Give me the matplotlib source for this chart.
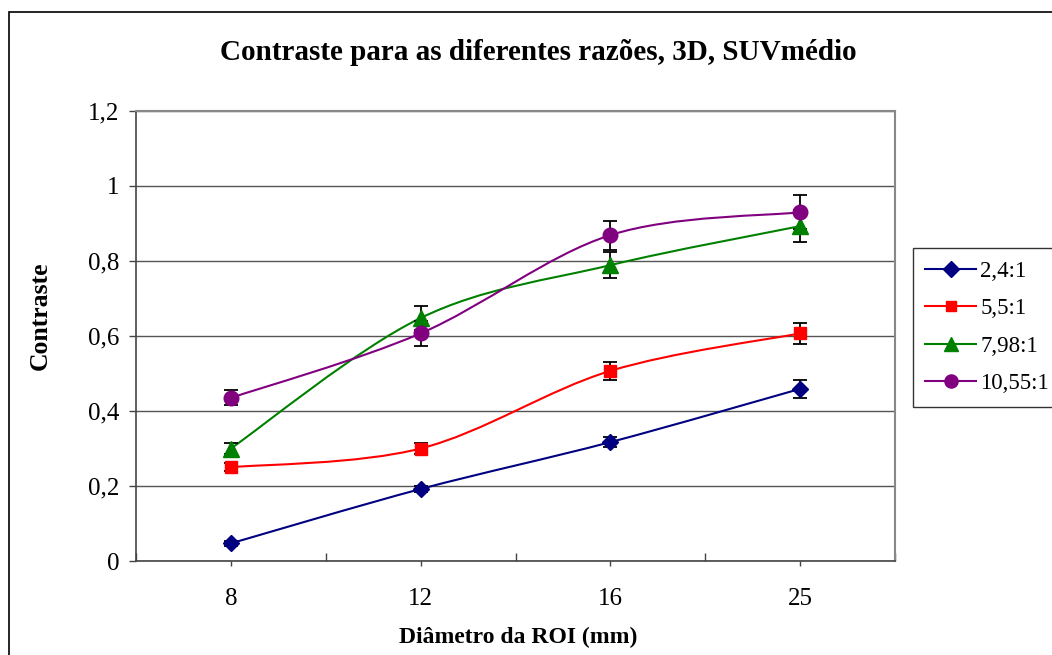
import matplotlib
matplotlib.use("Agg")
import matplotlib.pyplot as plt
from matplotlib.path import Path
from matplotlib.patches import PathPatch, Rectangle
from matplotlib.lines import Line2D
import numpy as np

plt.rcParams['font.family'] = ['Liberation Serif', 'DejaVu Serif']

categories = ["8", "12", "16", "25"]
series_names = ["2,4:1", "5,5:1", "7,98:1", "10,55:1"]
v_24 = [0.047, 0.192, 0.317, 0.459]
v_55 = [0.250, 0.300, 0.507, 0.607]
v_798 = [0.300, 0.648, 0.789, 0.893]
v_1055 = [0.435, 0.607, 0.869, 0.930]
e_24 = [0.006, 0.008, 0.013, 0.024]
e_55 = [0.011, 0.015, 0.025, 0.027]
e_798 = [0.015, 0.032, 0.035, 0.042]
e_1055 = [0.020, 0.033, 0.039, 0.045]
y_ticks = [0, 0.2, 0.4, 0.6, 0.8, 1.0, 1.2]
y_tick_labels = ["0", "0,2", "0,4", "0,6", "0,8", "1", "1,2"]

values = [v_24, v_55, v_798, v_1055]
errors = [e_24, e_55, e_798, e_1055]
colors = ["#000080", "#FF0000", "#008000", "#800080"]
markers = ["D", "s", "^", "o"]
msizes = [8.5, 8.5, 11, 10.5]

W, H = 1052, 655
fig = plt.figure(figsize=(W / 100, H / 100), dpi=100)
ax = fig.add_axes([136 / W, 1 - 561 / H, (895 - 136) / W, (561 - 111) / H])

x = np.arange(len(categories))


def smooth_path(xs, ys):
    pts = np.column_stack([xs, ys]).astype(float)
    n = len(pts)
    verts = [pts[0]]
    codes = [Path.MOVETO]
    for i in range(n - 1):
        p_prev = pts[i - 1] if i > 0 else pts[i]
        p_next2 = pts[i + 2] if i + 2 < n else pts[i + 1]
        c1 = pts[i] + (pts[i + 1] - p_prev) / 6.0
        c2 = pts[i + 1] - (p_next2 - pts[i]) / 6.0
        verts += [c1, c2, pts[i + 1]]
        codes += [Path.CURVE4] * 3
    return Path(verts, codes)


for vals, errs, c, m, ms in zip(values, errors, colors, markers, msizes):
    ax.add_patch(PathPatch(smooth_path(x, vals), facecolor='none', edgecolor=c,
                           lw=1.5, zorder=3))
    ax.errorbar(x, vals, yerr=errs, fmt='none', ecolor='black', elinewidth=1.3,
                capsize=5, capthick=1.3, zorder=4)
    ax.plot(x, vals, linestyle='none', marker=m, ms=ms, color=c, mec=c, zorder=5)

ax.set_xlim(-0.5, len(categories) - 0.5)
ax.set_ylim(0, 1.2)
ax.set_yticks(y_ticks)
ax.set_yticklabels(y_tick_labels)
ax.set_xticks(x)
ax.set_xticklabels(categories)
ax.set_xticks(np.arange(-0.5, len(categories), 1.0), minor=True)
ax.yaxis.grid(True, color='#555555', lw=1.0)
ax.set_axisbelow(True)

ax.tick_params(axis='y', which='major', direction='out', length=5, width=1,
               color='#444444', labelsize=18, pad=7)
ax.tick_params(axis='x', which='major', direction='out', length=3.5, width=1,
               color='#444444', labelsize=18, pad=16)
ax.tick_params(axis='x', which='minor', direction='in', length=6, width=1,
               color='#444444')

for side in ['left', 'bottom']:
    ax.spines[side].set_color('#444444')
    ax.spines[side].set_linewidth(1.2)
for side in ['right', 'top']:
    ax.spines[side].set_color('#888888')
    ax.spines[side].set_linewidth(1.5)

fig.text(538 / W, 1 - 52 / H, "Contraste para as diferentes razões, 3D, SUVmédio",
         ha='center', va='center', fontsize=21, fontweight='bold')
fig.text(518 / W, 1 - 637 / H, "Diâmetro da ROI (mm)", ha='center', va='center',
         fontsize=17, fontweight='bold')
fig.text(40 / W, 1 - 316 / H, "Contraste", ha='center', va='center',
         rotation=90, fontsize=18.5, fontweight='bold')

handles = [Line2D([], [], color=c, marker=m, ms=ms * 0.9, lw=1.5)
           for c, m, ms in zip(colors, markers, msizes)]
leg = fig.legend(handles, series_names, loc='upper left',
                 bbox_to_anchor=(912.7 / W, 1 - 248 / H), fontsize=16.5,
                 frameon=True, fancybox=False, shadow=False, handlelength=2.2,
                 handletextpad=0.2, labelspacing=0.72, borderpad=0.55,
                 borderaxespad=0)
leg.get_frame().set_edgecolor('black')
leg.get_frame().set_linewidth(1.0)

fig.add_artist(Rectangle((9 / W, -0.1), 1.2, 1 - 12 / H + 0.1,
                         transform=fig.transFigure, fill=False, lw=1.2,
                         edgecolor='black', clip_on=False))

fig.savefig("out.png", dpi=100)
